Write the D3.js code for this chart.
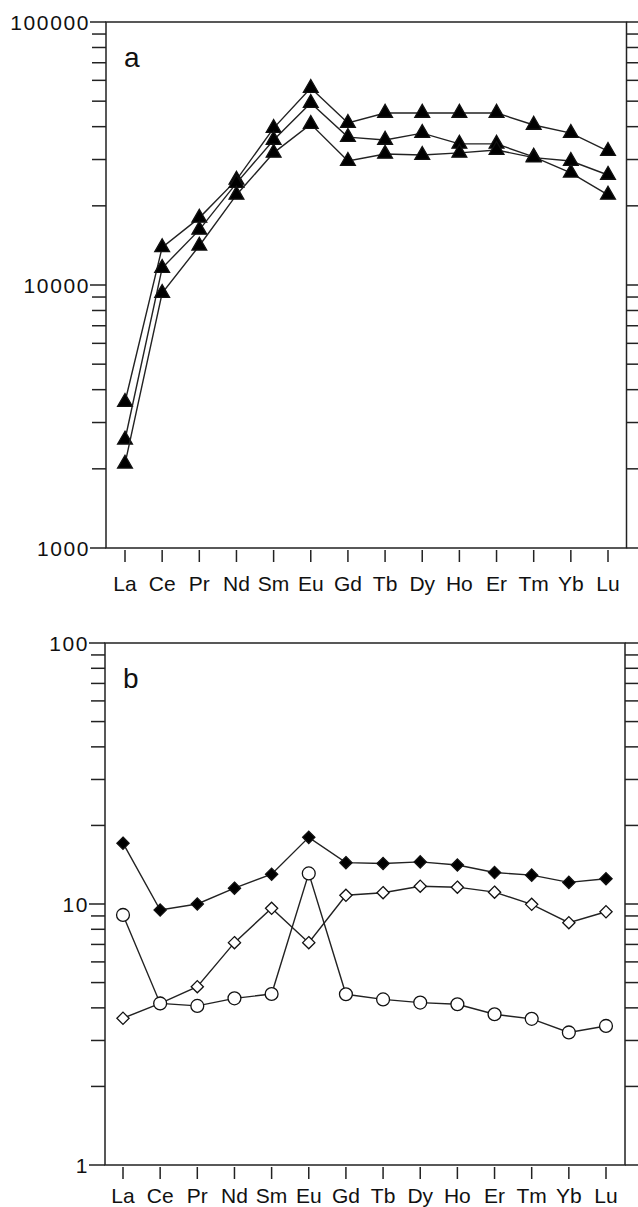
<!DOCTYPE html>
<html>
<head>
<meta charset="utf-8">
<script src="https://cdn.jsdelivr.net/npm/d3@7"></script>
<style>
  body { margin: 0; background: #fff; }
  svg { display: block; }
  text { font-family: "Liberation Sans", Arial, sans-serif; fill: #111; }
</style>
</head>
<body>
<div id="chart"></div>
<script>
// REE categories (shared by both panels)
var elements = ["La","Ce","Pr","Nd","Sm","Eu","Gd","Tb","Dy","Ho","Er","Tm","Yb","Lu"];

// panel a - three samples, filled triangles
var a1 = [3590, 13900, 18000, 25100, 39500, 56100, 41300, 45100, 45100, 45100, 45100, 40600, 37800, 32300];
var a2 = [2580, 11600, 16200, 24400, 35600, 49200, 36500, 35600, 37800, 34400, 34400, 30700, 26700, 22000];
var a3 = [2090, 9320, 14100, 22000, 31800, 40900, 29600, 31500, 31200, 31800, 32600, 30500, 29600, 26200];

// panel b
var bFilled = [17.1, 9.48, 10.0, 11.5, 13.0, 18.0, 14.4, 14.3, 14.5, 14.1, 13.2, 12.9, 12.1, 12.5];
var bDiamond = [3.65, 4.16, 4.82, 7.11, 9.63, 7.11, 10.8, 11.05, 11.7, 11.6, 11.1, 9.97, 8.48, 9.34];
var bCircle = [9.08, 4.16, 4.07, 4.35, 4.52, 13.1, 4.51, 4.31, 4.19, 4.13, 3.78, 3.63, 3.22, 3.41];

var topTicks = [1000, 10000, 100000];
var botTicks = [1, 10, 100];

var W = 638, H = 1207;
var svg = d3.select("#chart").append("svg")
  .attr("width", W)
  .attr("height", H);

function minorTicks(domain) {
  var out = [];
  var lo = Math.log10(domain[0]), hi = Math.log10(domain[1]);
  for (var e = lo; e < hi; e++) {
    for (var m = 2; m <= 9; m++) out.push(m * Math.pow(10, e));
  }
  return out;
}

function build_panel(opts) {
  var x = d3.scalePoint()
    .domain(elements)
    .range([opts.xFirst, opts.xLast]);

  var y = d3.scaleLog()
    .domain(opts.domain)
    .range([opts.bottom, opts.top]);

  var g = svg.append("g");

  // frame
  g.append("rect")
    .attr("x", opts.left)
    .attr("y", opts.top)
    .attr("width", opts.right - opts.left)
    .attr("height", opts.bottom - opts.top)
    .attr("fill", "none")
    .attr("stroke", "#222")
    .attr("stroke-width", 1.5);

  // left ticks (outward)
  var minors = minorTicks(opts.domain);
  g.selectAll(".lmin").data(minors).enter().append("line")
    .attr("x1", opts.left - 14).attr("x2", opts.left)
    .attr("y1", function(d) { return y(d); })
    .attr("y2", function(d) { return y(d); })
    .attr("stroke", "#222").attr("stroke-width", 1.5);

  g.selectAll(".lmaj").data(opts.ticks).enter().append("line")
    .attr("x1", opts.left - 16).attr("x2", opts.left)
    .attr("y1", function(d) { return y(d); })
    .attr("y2", function(d) { return y(d); })
    .attr("stroke", "#222").attr("stroke-width", 1.5);

  g.selectAll(".llab").data(opts.ticks).enter().append("text")
    .attr("x", opts.left - 16)
    .attr("y", function(d) { return y(d); })
    .attr("dy", "0.36em")
    .attr("text-anchor", "end")
    .style("font-size", "21px")
    .style("letter-spacing", "1.6px")
    .text(function(d) { return d; });

  // right ticks (outward)
  g.selectAll(".rtick").data(minors.concat(opts.ticks)).enter().append("line")
    .attr("x1", opts.right).attr("x2", opts.right + 14)
    .attr("y1", function(d) { return y(d); })
    .attr("y2", function(d) { return y(d); })
    .attr("stroke", "#222").attr("stroke-width", 1.5);

  // bottom category ticks
  g.selectAll(".btick").data(elements).enter().append("line")
    .attr("x1", function(d) { return x(d); })
    .attr("x2", function(d) { return x(d); })
    .attr("y1", opts.bottom + 2)
    .attr("y2", opts.bottom + 14)
    .attr("stroke", "#222").attr("stroke-width", 1.5);

  g.selectAll(".blab").data(elements).enter().append("text")
    .attr("x", function(d) { return x(d); })
    .attr("y", opts.bottom + opts.labelOffset)
    .attr("text-anchor", "middle")
    .style("font-size", "21px")
    .text(function(d) { return d; });

  // panel letter
  g.append("text")
    .attr("x", opts.left + 18)
    .attr("y", opts.top + 45)
    .style("font-size", "28px")
    .text(opts.letter);

  var line = d3.line()
    .x(function(d, i) { return x(elements[i]); })
    .y(function(d) { return y(d); });

  opts.series.forEach(function(s) {
    g.append("path")
      .datum(s.values)
      .attr("d", line)
      .attr("fill", "none")
      .attr("stroke", "#222")
      .attr("stroke-width", 1.4);

    g.selectAll(null).data(s.values).enter().append("path")
      .attr("transform", function(d, i) {
        return "translate(" + x(elements[i]) + "," + y(d) + ")";
      })
      .attr("d", d3.symbol().type(s.symbol).size(s.size))
      .attr("fill", s.fill)
      .attr("stroke", "#111")
      .attr("stroke-width", 1.3);
  });
}

build_panel({
  left: 106, right: 626.5, top: 22, bottom: 548,
  xFirst: 125, xLast: 608, labelOffset: 43,
  domain: [1000, 100000], ticks: topTicks, letter: "a",
  series: [
    { values: a1, symbol: d3.symbolTriangle, size: 95, fill: "#000" },
    { values: a2, symbol: d3.symbolTriangle, size: 95, fill: "#000" },
    { values: a3, symbol: d3.symbolTriangle, size: 95, fill: "#000" }
  ]
});

build_panel({
  left: 105, right: 625, top: 643, bottom: 1165,
  xFirst: 123, xLast: 606, labelOffset: 38,
  domain: [1, 100], ticks: botTicks, letter: "b",
  series: [
    { values: bFilled, symbol: d3.symbolDiamond2, size: 95, fill: "#000" },
    { values: bDiamond, symbol: d3.symbolDiamond2, size: 95, fill: "#fff" },
    { values: bCircle, symbol: d3.symbolCircle, size: 130, fill: "#fff" }
  ]
});
</script>
</body>
</html>
